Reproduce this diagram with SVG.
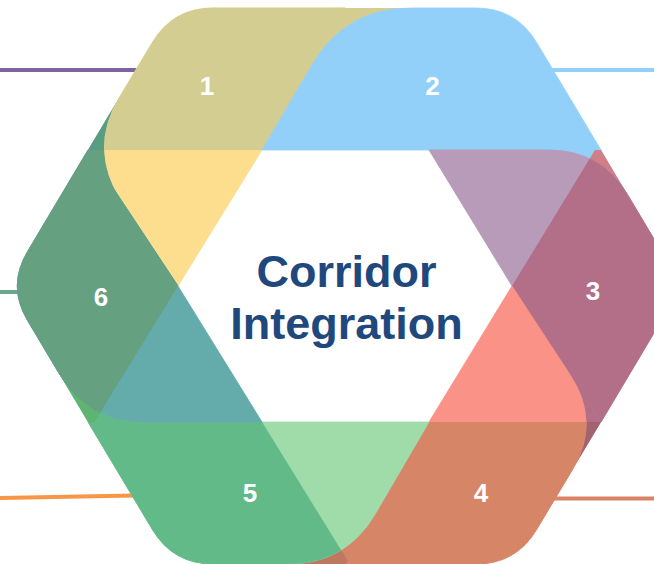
<svg xmlns="http://www.w3.org/2000/svg" width="654" height="564" viewBox="0 0 654 564">
<style>
.lbl{font-family:"Liberation Sans",Arial,sans-serif;font-weight:bold;font-size:26px;fill:#fff;text-anchor:middle}
.title{font-family:"Liberation Sans",Arial,sans-serif;font-weight:bold;font-size:45px;fill:#1F497D;text-anchor:middle}
.conn{fill:none;stroke-width:4}
</style>
<defs>
<clipPath id="c1"><rect x="0" y="0" width="654" height="150"/></clipPath>
<clipPath id="c3"><polygon points="686.5,0 800,0 800,600 320.5,600"/></clipPath>
<clipPath id="c4"><rect x="0" y="422" width="654" height="200"/></clipPath>
<clipPath id="c5"><polygon points="0,400 248.4,400 372,600 0,600"/></clipPath>
<clipPath id="c6"><polygon points="0,140 267.6,140 58.9,480 0,480"/></clipPath>
</defs>
<rect width="654" height="564" fill="#fff"/>
<g id="connectors">
<line class="conn" x1="0" y1="70" x2="142" y2="70" stroke="#8064A2"/>
<line class="conn" x1="551" y1="70" x2="654" y2="70" stroke="#92D0FA"/>
<line class="conn" x1="0" y1="292" x2="20" y2="292" stroke="#6AA88B" stroke-width="3.5"/>
<line class="conn" x1="0" y1="498" x2="134" y2="495.5" stroke="#F79646"/>
<line class="conn" x1="552" y1="498.5" x2="654" y2="498.5" stroke="#D98467"/>
</g>
<g id="node1">
<path d="M122.2,201.7 L88,150 L119.8,96.8 Z" fill="#65A080"/>
<path d="M122.2,201.7 L88,150 L119.8,96.8 Z" fill="#589C82" clip-path="url(#c1)"/>
<path d="M178,286 L122.2,201.7 Q88,150 119.8,96.8 L152.5,42.3 Q173,8 213,8 L345.5,8 L262,150 Z" fill="#FDDE8F" stroke="#FDDE8F" stroke-width="0.8"/>
<path d="M178,286 L122.2,201.7 Q88,150 119.8,96.8 L152.5,42.3 Q173,8 213,8 L345.5,8 L262,150 Z" fill="#D3CD92" stroke="#D3CD92" stroke-width="0.8" clip-path="url(#c1)"/>
<text class="lbl" x="207" y="95">1</text>
</g>
<g id="node2">
<path d="M312,64.9 L345.5,8 L411.5,8 Z" fill="#D3CD92"/>
<path d="M262,150 L312,64.9 Q345.5,8 411.5,8 L476,8 Q516,8 536.5,42.3 L601,150 Z" fill="#92D0FA" stroke="#92D0FA" stroke-width="0.8"/>
<text class="lbl" x="432.5" y="95">2</text>
</g>
<g id="node3">
<path d="M549,150 L601,150 L627.6,194.7 Z" fill="#92D0FA"/>
<path d="M549,150 L601,150 L627.6,194.7 Z" fill="#CF8086" clip-path="url(#c3)"/>
<path d="M429,150 L549,150 Q601,150 627.6,194.7 L661.5,251.6 Q682,286 661.5,320.4 L601,422 L512,286 Z" fill="#B79BB9" stroke="#B79BB9" stroke-width="0.8"/>
<path d="M429,150 L549,150 Q601,150 627.6,194.7 L661.5,251.6 Q682,286 661.5,320.4 L601,422 L512,286 Z" fill="#B46F88" stroke="#B46F88" stroke-width="0.8" clip-path="url(#c3)"/>
<text class="lbl" x="593" y="300">3</text>
</g>
<g id="node4">
<path d="M570.3,375.1 L601,422 L572.2,470 Z" fill="#B46F88"/>
<path d="M570.3,375.1 L601,422 L572.2,470 Z" fill="#A2636F" clip-path="url(#c4)"/>
<path d="M512,286 L570.3,375.1 Q601,422 572.2,470 L536.5,529.7 Q516,564 476,564 L346,564 L429,422 Z" fill="#FA9288" stroke="#FA9288" stroke-width="0.8"/>
<path d="M512,286 L570.3,375.1 Q601,422 572.2,470 L536.5,529.7 Q516,564 476,564 L346,564 L429,422 Z" fill="#D78567" stroke="#D78567" stroke-width="0.8" clip-path="url(#c4)"/>
<text class="lbl" x="481" y="502">4</text>
</g>
<g id="node5">
<path d="M375.3,513.9 L346,564 L288,564 Z" fill="#D78567"/>
<path d="M375.3,513.9 L346,564 L288,564 Z" fill="#BE785F" clip-path="url(#c5)"/>
<path d="M429,422 L375.3,513.9 Q346,564 288,564 L213,564 Q173,564 152.5,529.7 L88,422 Z" fill="#A0DBAA" stroke="#A0DBAA" stroke-width="0.8"/>
<path d="M429,422 L375.3,513.9 Q346,564 288,564 L213,564 Q173,564 152.5,529.7 L88,422 Z" fill="#63BA89" stroke="#63BA89" stroke-width="0.8" clip-path="url(#c5)"/>
<text class="lbl" x="250" y="502">5</text>
</g>
<g id="node6">
<path d="M146,422 L88,422 L58.3,372.2 Z" fill="#63BA89"/>
<path d="M146,422 L88,422 L58.3,372.2 Z" fill="#5FB474" clip-path="url(#c6)"/>
<path d="M262,422 L146,422 Q88,422 58.3,372.2 L27.5,320.4 Q7,286 27.5,251.6 L88,150 L178,286 Z" fill="#64ACAC" stroke="#64ACAC" stroke-width="0.8"/>
<path d="M262,422 L146,422 Q88,422 58.3,372.2 L27.5,320.4 Q7,286 27.5,251.6 L88,150 L178,286 Z" fill="#65A080" stroke="#65A080" stroke-width="0.8" clip-path="url(#c6)"/>
<text class="lbl" x="101" y="305.5">6</text>
</g>
<g id="center">
<text class="title" x="346.5" y="287">Corridor</text>
<text class="title" x="346.5" y="339">Integration</text>
</g>
</svg>
